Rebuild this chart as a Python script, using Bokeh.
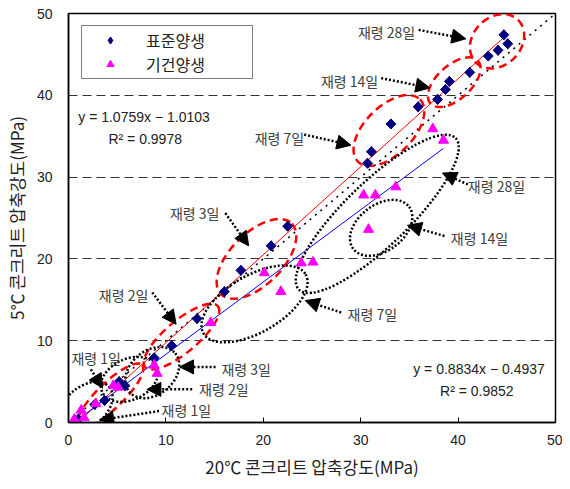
import numpy as np
from bokeh.plotting import figure
from bokeh.models import (Arrow, NormalHead, Label, Legend, LegendItem, FixedTicker)
from bokeh.embed import file_html
from bokeh.resources import INLINE

# ---------------- data ----------------
std_x = [1.0, 2.7, 3.7, 5.2, 5.8, 8.8, 10.6, 13.2, 16.0, 17.7, 20.8, 22.5,
         30.7, 31.1, 33.1, 35.9, 37.9, 38.7, 39.1, 41.2, 43.1, 44.1, 44.7, 45.1]
std_y = [0.4, 2.2, 2.7, 5.0, 4.5, 7.9, 9.4, 12.7, 16.0, 18.6, 21.6, 24.0,
         31.7, 33.1, 36.5, 38.6, 39.5, 40.7, 41.7, 42.8, 44.8, 45.5, 47.4, 46.3]
dry_x = [0.6, 1.6, 1.3, 2.8, 4.6, 5.1, 8.8, 9.1, 14.6, 20.1, 21.8, 23.9, 25.1,
         30.3, 30.8, 31.5, 33.6, 37.4, 38.5]
dry_y = [0.4, 0.6, 1.5, 2.3, 4.5, 4.3, 7.0, 6.0, 12.2, 18.3, 16.0, 19.5, 19.6,
         27.8, 23.6, 27.8, 28.8, 35.9, 34.5]
std_fit = (1.0759, -1.0103)
dry_fit = (0.8834, -0.4937)
ticks = [0, 10, 20, 30, 40, 50]

# annotation ellipses: center x, center y, major px, minor px, angle deg
red_ell = [(44.0, 46.6, 60, 48, 45), (39.6, 41.6, 64, 34, 42), (32.9, 35.7, 88, 48, 45),
           (19.3, 20.0, 100, 52, 45), (11.6, 10.5, 95, 32, 40), (4.3, 3.3, 88, 26, 44)]
blk_ell = [(31.7, 25.5, 218, 64, 44), (32.1, 23.8, 70, 46, 37), (19.1, 14.5, 118, 57, 30),
           (8.6, 6.1, 60, 44, 40), (6.25, 5.27, 60, 41, 25), (1.76, 1.9, 62, 40, 40)]

# labels: text, x, y, align ; arrows: x0, y0, x1, y1
lab_text = ["재령 28일", "재령 14일", "재령 7일", "재령 3일", "재령 2일", "재령 1일",
            "재령 28일", "재령 14일", "재령 7일", "재령 3일", "재령 2일", "재령 1일"]
lab_x = [35.6, 31.8, 24.2, 15.5, 8.2, 0.3, 41.0, 39.25, 28.65, 15.7, 13.4, 9.55]
lab_y = [47.7, 41.8, 34.8, 25.6, 15.6, 7.9, 28.9, 22.5, 13.25, 6.56, 4.13, 1.5]
lab_align = ["right"] * 5 + ["left"] * 7
arr = [(35.95, 48.0, 40.8, 46.9), (32.1, 42.1, 37.1, 40.9), (24.2, 35.2, 29.0, 33.9),
       (16.1, 25.6, 18.5, 21.6), (8.6, 15.9, 11.05, 12.0), (2.3, 6.5, 3.5, 4.2),
       (41.0, 29.1, 38.4, 30.5), (38.6, 22.8, 34.8, 24.1), (28.0, 13.45, 24.3, 14.9),
       (15.1, 6.8, 11.4, 6.8), (12.7, 4.05, 8.05, 4.05), (9.3, 1.4, 3.2, 0.3)]

KFONT = "Noto Sans CJK KR"
NFONT = "Liberation Sans"

p = figure(width=562, height=481, x_range=(0, 50), y_range=(0, 50),
           output_backend="svg", toolbar_location=None,
           min_border_left=68, min_border_right=7, min_border_top=13, min_border_bottom=57)

p.outline_line_color = "black"
p.outline_line_width = 1.5
p.xgrid.visible = False
p.ygrid.grid_line_color = "#333333"
p.ygrid.grid_line_dash = "9 5"
p.ygrid.grid_line_width = 1

for ax in (p.xaxis[0], p.yaxis[0]):
    ax.ticker = FixedTicker(ticks=ticks)
    ax.minor_tick_line_color = None
    ax.axis_line_color = "black"
    ax.axis_line_width = 1.5
    ax.major_label_text_font = NFONT
    ax.major_label_text_font_size = "14px"
    ax.major_label_text_color = "#222222"
    ax.axis_label_text_font = KFONT
    ax.axis_label_text_font_size = "17px"
    ax.axis_label_text_font_style = "normal"
    ax.axis_label_text_color = "#222222"

p.xaxis.major_tick_in = 5
p.xaxis.major_tick_out = 0
p.xaxis.major_tick_line_color = "black"
p.xaxis.major_label_standoff = 12
p.xaxis.axis_label_standoff = 6
p.xaxis.axis_label = "20℃ 콘크리트 압축강도(MPa)"
p.yaxis.major_tick_in = 0
p.yaxis.major_tick_out = 0
p.yaxis.major_label_standoff = 16
p.yaxis.axis_label_standoff = 5
p.yaxis.axis_label = "5℃ 콘크리트 압축강도(MPa)"

# 1:1 line
p.line([ticks[0], ticks[-1]], [ticks[0], ticks[-1]], line_color="black",
       line_dash="2 5", line_width=1.5)

# regression lines
sx = np.array([min(std_x), max(std_x)])
dx = np.array([min(dry_x), max(dry_x)])
p.line(sx, std_fit[0] * sx + std_fit[1], line_color="red", line_width=1)
p.line(dx, dry_fit[0] * dx + dry_fit[1], line_color="blue", line_width=1)

# ellipses
for cx, cy, w, h, a in red_ell:
    p.ellipse(x=cx, y=cy, width=w, height=h, width_units="screen", height_units="screen",
              angle=np.deg2rad(a), fill_color=None, line_color="red",
              line_width=2.5, line_dash="8 5")
for cx, cy, w, h, a in blk_ell:
    p.ellipse(x=cx, y=cy, width=w, height=h, width_units="screen", height_units="screen",
              angle=np.deg2rad(a), fill_color=None, line_color="black",
              line_width=2.5, line_dash="2 2")

# points (diamond renderer also serves as the legend glyph)
r_std = p.scatter(std_x, std_y, marker="diamond", size=10,
                  fill_color="#000080", line_color="#000080")
p.scatter(std_x, std_y, marker="square", angle=np.pi / 4, size=7,
          fill_color="#000080", line_color="#000080")
r_dry = p.scatter(dry_x, dry_y, marker="triangle", size=10,
                  fill_color="#FF00FF", line_color="#FF00FF")

# arrows
for x0, y0, x1, y1 in arr:
    p.add_layout(Arrow(x_start=x0, y_start=y0, x_end=x1, y_end=y1,
                       line_color="black", line_width=2.5, line_dash="2 2",
                       end=NormalHead(size=14, fill_color="black", line_color="black",
                                      line_width=1)))

for t, x, y, al in zip(lab_text, lab_x, lab_y, lab_align):
    p.add_layout(Label(x=x, y=y, text=t, text_align=al, text_baseline="middle",
                       text_font=KFONT, text_font_size="14px", text_color="#404040"))

# regression equations
eq = [("y = 1.0759x − 1.0103", 1.0, 37.3, "left"), ("R² = 0.9978", 4.1, 34.6, "left"),
      ("y = 0.8834x − 0.4937", 48.9, 6.6, "right"), ("R² = 0.9852", 45.7, 3.9, "right")]
for t, x, y, al in eq:
    p.add_layout(Label(x=x, y=y, text=t, text_align=al, text_baseline="middle",
                       text_font=NFONT, text_font_size="14px", text_color="#222222"))

legend = Legend(items=[LegendItem(label="표준양생", renderers=[r_std]),
                       LegendItem(label="기건양생", renderers=[r_dry])],
                location=(13, 343), orientation="vertical",
                label_text_font=KFONT, label_text_font_size="16px",
                label_text_color="#222222",
                label_height=18, glyph_height=18, glyph_width=52, label_standoff=10,
                label_width=104, spacing=0, padding=2, margin=0,
                border_line_color="black", border_line_width=1.2,
                background_fill_color="white", background_fill_alpha=1)
p.add_layout(legend)

open("out.html", "w").write(file_html(p, INLINE))
